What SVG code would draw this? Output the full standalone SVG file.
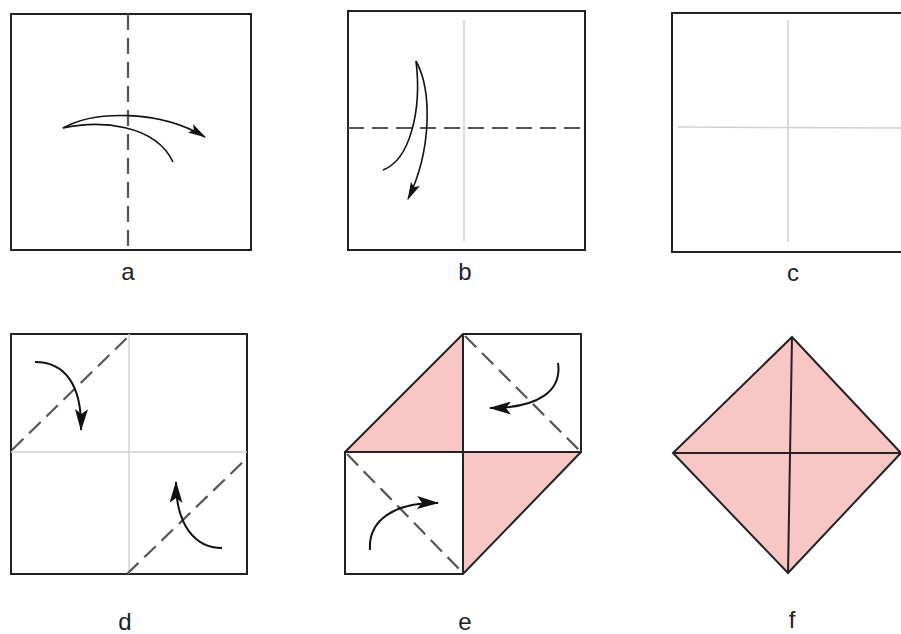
<svg xmlns="http://www.w3.org/2000/svg" width="901" height="634" viewBox="0 0 901 634">
<style>
.edge{fill:none;stroke:#222;stroke-width:2}
.crease{fill:none;stroke:#d0d0d0;stroke-width:1.5}
.dash{fill:none;stroke:#555;stroke-width:2.2;stroke-dasharray:16 8}
.arr{fill:none;stroke:#111;stroke-width:1.6}
.arr2{fill:none;stroke:#111;stroke-width:2}
.pink{fill:#f9c6c6;stroke:none}
.lbl{font-family:"Liberation Sans",Arial,sans-serif;font-size:24px;fill:#222;text-anchor:middle}
</style>
<defs>
<marker id="ah" viewBox="0 0 18 10" refX="17" refY="5" markerWidth="18" markerHeight="10" markerUnits="userSpaceOnUse" orient="auto">
<path d="M0,0 L18,5 L0,10 L4,5 Z" fill="#111"/>
</marker>
<marker id="ah2" viewBox="0 0 22 13" refX="21" refY="6.5" markerWidth="22" markerHeight="13" markerUnits="userSpaceOnUse" orient="auto">
<path d="M0,0 L22,6.5 L0,13 L5,6.5 Z" fill="#111"/>
</marker>
</defs>
<rect width="901" height="634" fill="#fff"/>

<g id="panel-a">
<rect class="edge" x="11" y="14" width="240" height="236"/>
<line class="dash" x1="128" y1="14" x2="128" y2="250"/>
<g class="connectors">
<path class="arr" d="M63,128 C95,110 160,110 205,137" marker-end="url(#ah)"/>
<path class="arr" d="M63,128 C100,120 155,124 173,162"/>
</g>
<text class="lbl" x="128" y="280">a</text>
</g>

<g id="panel-b">
<rect class="edge" x="348" y="11" width="237" height="239"/>
<line class="crease" x1="464" y1="20" x2="464" y2="241"/>
<line class="dash" x1="348" y1="128" x2="585" y2="128"/>
<g class="connectors">
<path class="arr" d="M416,61 C422,110 410,160 383,170"/>
<path class="arr" d="M416,61 C432,90 432,150 408,199" marker-end="url(#ah)"/>
</g>
<text class="lbl" x="465" y="280">b</text>
</g>

<g id="panel-c">
<rect class="edge" x="672" y="13" width="240" height="239"/>
<line class="crease" x1="788" y1="20" x2="788" y2="242"/>
<line class="crease" x1="678" y1="127" x2="901" y2="128"/>
<text class="lbl" x="793" y="281">c</text>
</g>

<g id="panel-d">
<rect class="edge" x="11" y="334" width="236" height="240"/>
<line class="crease" x1="129" y1="334" x2="129" y2="574"/>
<line class="crease" x1="11" y1="452" x2="247" y2="452"/>
<line class="dash" x1="12" y1="450" x2="131" y2="334"/>
<line class="dash" x1="127" y1="574" x2="247" y2="458"/>
<g class="connectors">
<path class="arr2" d="M35,362 C65,362 82,385 81,430" marker-end="url(#ah2)"/>
<path class="arr2" d="M222,548 C195,548 176,525 176,482" marker-end="url(#ah2)"/>
</g>
<text class="lbl" x="125" y="630">d</text>
</g>

<g id="panel-e">
<polygon class="pink" points="345,452 463,334 463,452"/>
<polygon class="pink" points="463,452 581,452 463,574"/>
<polygon class="edge" points="345,452 463,334 581,334 581,452 463,574 345,574"/>
<line class="edge" x1="345" y1="452" x2="581" y2="452"/>
<line class="edge" x1="463" y1="334" x2="463" y2="574"/>
<line class="dash" x1="465" y1="336" x2="580" y2="451"/>
<line class="dash" x1="347" y1="454" x2="462" y2="572"/>
<g class="connectors">
<path class="arr2" d="M558,363 C562,390 540,408 490,408" marker-end="url(#ah2)"/>
<path class="arr2" d="M370,550 C368,520 395,502 438,503" marker-end="url(#ah2)"/>
</g>
<text class="lbl" x="465" y="630">e</text>
</g>

<g id="panel-f">
<polygon class="pink" points="792,337 901,453 788,573 673,453"/>
<polygon class="edge" points="792,337 901,453 788,573 673,453"/>
<line class="edge" x1="673" y1="453" x2="901" y2="453"/>
<line class="edge" x1="792" y1="337" x2="788" y2="573"/>
<text class="lbl" x="792" y="628">f</text>
</g>
</svg>
